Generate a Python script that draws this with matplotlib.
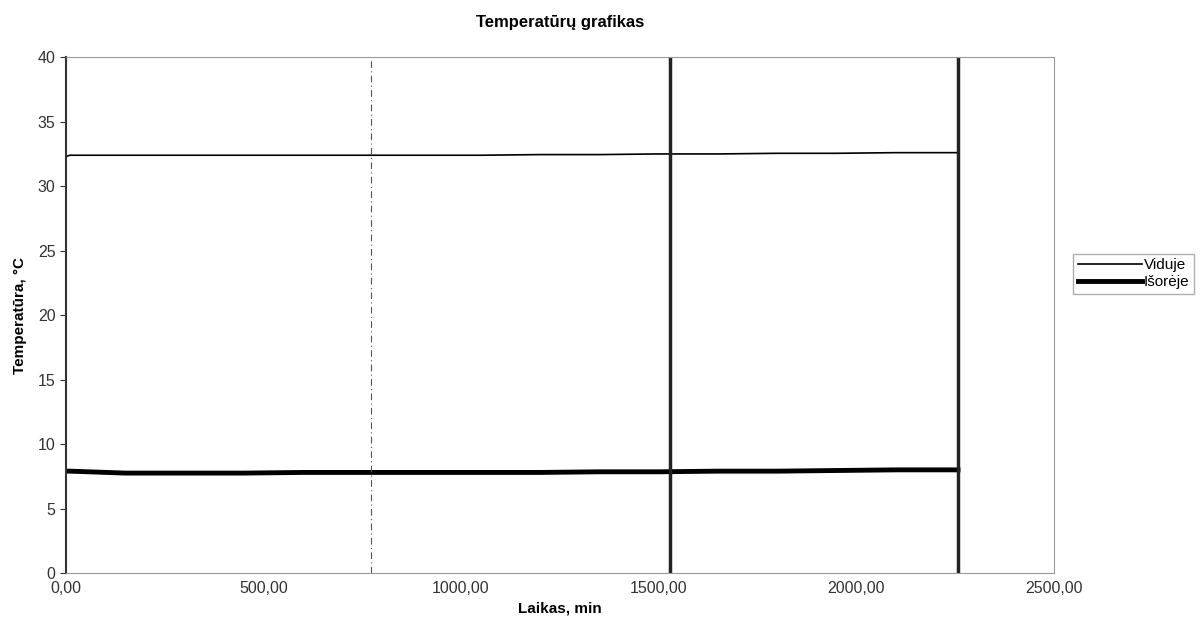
import matplotlib
matplotlib.use("Agg")
import matplotlib.pyplot as plt
from matplotlib.ticker import FuncFormatter

# Time, min
laikas = [0, 10, 150, 300, 450, 600, 750, 900, 1050, 1200, 1350, 1500, 1650, 1800, 1950, 2100, 2258]
# Inside temperature
viduje = [32.3, 32.4, 32.4, 32.4, 32.4, 32.4, 32.4, 32.4, 32.4, 32.45, 32.45, 32.5, 32.5, 32.55, 32.55, 32.6, 32.6]
# Outside temperature
isoreje = [7.9, 7.9, 7.75, 7.75, 7.75, 7.8, 7.8, 7.8, 7.8, 7.8, 7.85, 7.85, 7.9, 7.9, 7.95, 8.0, 8.0]

# vertical markers (min)
markers = [1530, 2258]
fold_line = 773  # scan fold

plt.rcParams['font.family'] = ['Liberation Sans', 'DejaVu Sans']

fig = plt.figure(figsize=(12, 6.29), dpi=100)
ax = fig.add_axes([0.055, 0.089, 0.823, 0.82])

ax.plot(laikas, viduje, color="black", lw=1.2, label="Viduje")
ax.plot(laikas, isoreje, color="black", lw=3.5, label="Išorėje")
ax.vlines(markers, 0, 40, color="#222222", lw=2.5)
ax.axvline(fold_line, color="#555555", lw=0.8, ls=(0, (6, 3, 1, 3)))

ax.set_xlim(0, 2500)
ax.set_ylim(0, 40)
ax.set_xticks([0, 500, 1000, 1500, 2000, 2500])
ax.set_yticks(range(0, 41, 5))
ax.xaxis.set_major_formatter(FuncFormatter(lambda v, p: f"{v:.2f}".replace(".", ",")))
ax.tick_params(labelsize=11.5, colors="#333333", length=4)
ax.tick_params(axis="x", length=0, pad=6)

for s in ["top", "right", "bottom"]:
    ax.spines[s].set_color("#999999")
    ax.spines[s].set_linestyle((0, (1, 1)))
ax.spines["left"].set_color("#333333")
ax.spines["left"].set_linewidth(1.5)

ax.set_title("Temperatūrų grafikas", fontsize=12, fontweight="bold", pad=22)
ax.set_xlabel("Laikas, min", fontsize=11, fontweight="bold", labelpad=4)
ax.set_ylabel("Temperatūra, °C", fontsize=11, fontweight="bold", labelpad=8)

leg = fig.legend(loc="center left", bbox_to_anchor=(0.888, 0.565), fontsize=11,
                 frameon=True, fancybox=False, edgecolor="#999999",
                 handlelength=4.2, handletextpad=0.1, borderpad=0.3, labelspacing=0.2)

plt.savefig("out.png", dpi=100)
